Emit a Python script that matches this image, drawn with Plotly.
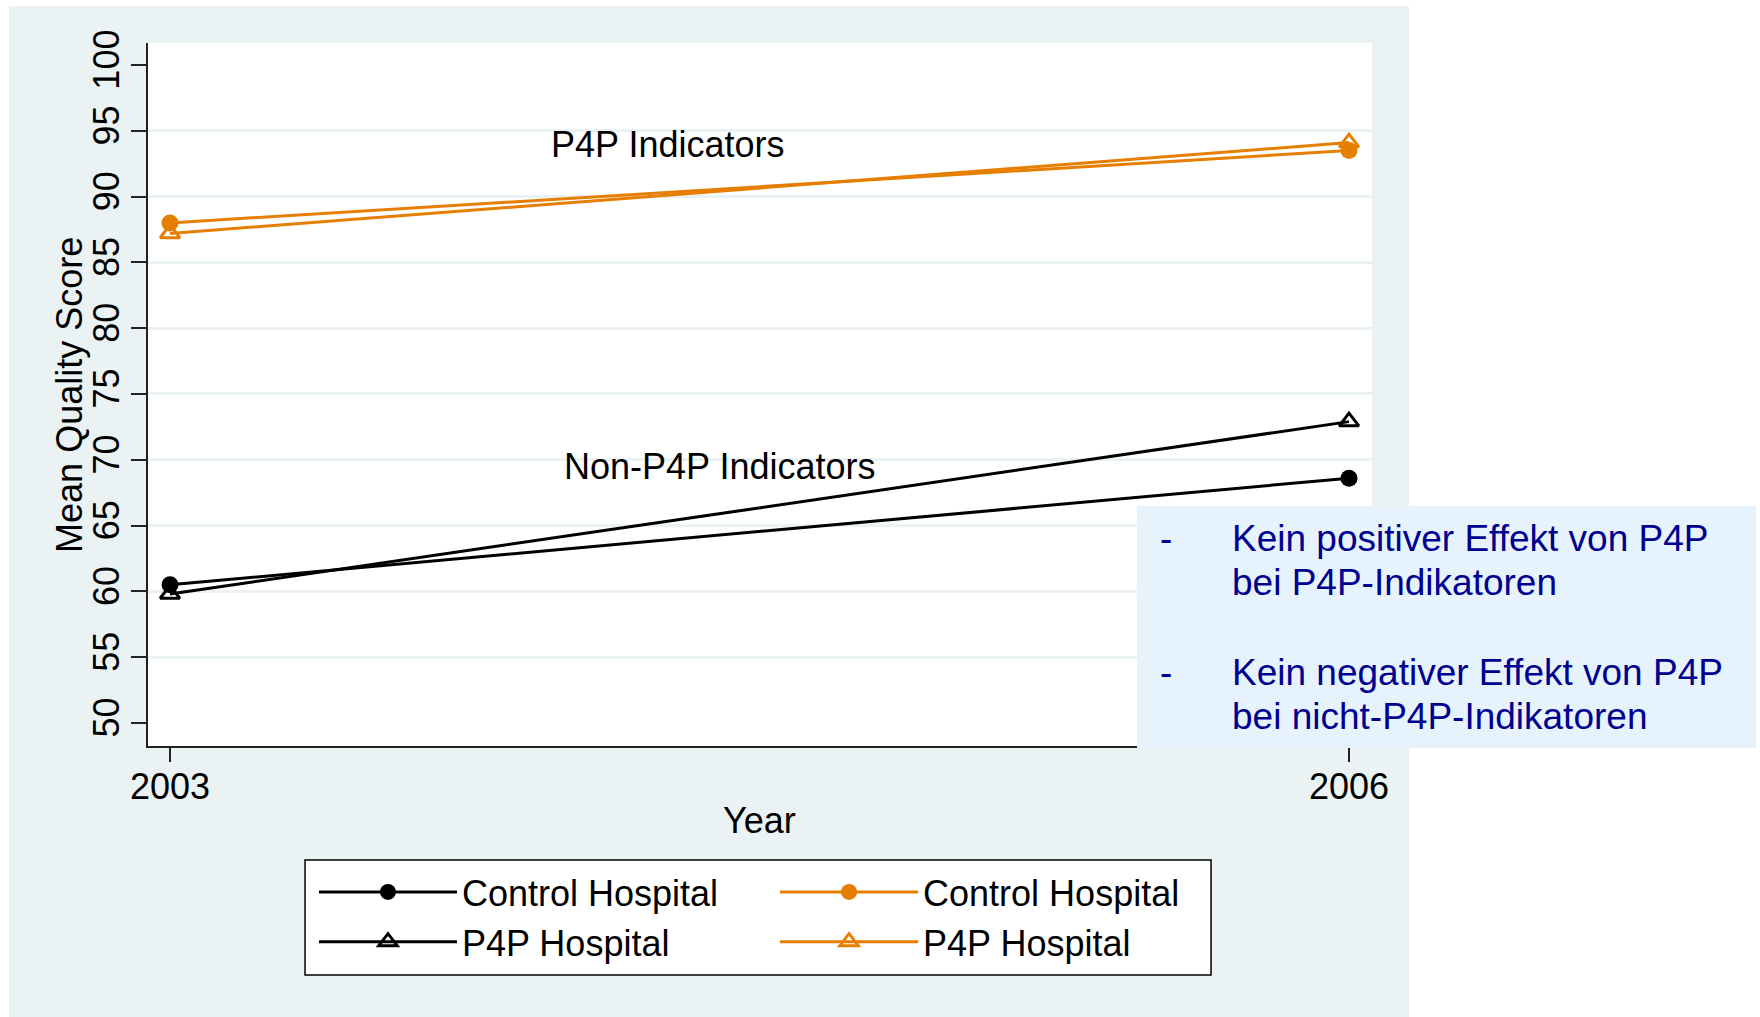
import plotly.graph_objects as go

# ---- data ----
years = [2003, 2006]
nonp4p_control = [60.5, 68.6]
nonp4p_p4p = [59.8, 72.9]
p4p_control = [88.0, 93.5]
p4p_p4p = [87.2, 94.1]
ytick_vals = [50, 55, 60, 65, 70, 75, 80, 85, 90, 95, 100]
grid_vals = [55, 60, 65, 70, 75, 80, 85, 90, 95]
xtick_vals = [2003, 2006]

FONT = "Arial, Liberation Sans, sans-serif"
BLACK = "#000000"
ORANGE = "#E67E00"
BG = "#EAF2F3"
NAVY = "#000090"
FS = 36
FS_NOTE = 37

fig = go.Figure()
fig.add_trace(go.Scatter(x=years, y=nonp4p_control, mode="lines+markers", name="Control Hospital",
                         legend="legend",
                         line=dict(color=BLACK, width=3),
                         marker=dict(symbol="circle", size=17, color=BLACK)))
fig.add_trace(go.Scatter(x=years, y=nonp4p_p4p, mode="lines+markers", name="P4P Hospital",
                         legend="legend",
                         line=dict(color=BLACK, width=3),
                         marker=dict(symbol="triangle-up-open", size=17, color=BLACK,
                                     line=dict(width=3, color=BLACK))))
fig.add_trace(go.Scatter(x=years, y=p4p_control, mode="lines+markers", name="Control Hospital",
                         legend="legend2",
                         line=dict(color=ORANGE, width=3),
                         marker=dict(symbol="circle", size=17, color=ORANGE)))
fig.add_trace(go.Scatter(x=years, y=p4p_p4p, mode="lines+markers", name="P4P Hospital",
                         legend="legend2",
                         line=dict(color=ORANGE, width=3),
                         marker=dict(symbol="triangle-up-open", size=17, color=ORANGE,
                                     line=dict(width=3, color=ORANGE))))

shapes = [
    # outer graph region background
    dict(type="rect", xref="paper", yref="paper", x0=-0.1136, x1=1.0302, y0=-0.40, y1=1.0526,
         fillcolor=BG, line=dict(width=0), layer="below"),
    # plot region
    dict(type="rect", xref="paper", yref="paper", x0=0, x1=1, y0=0, y1=1,
         fillcolor="white", line=dict(width=0), layer="below"),
    # note box
    dict(type="rect", xref="paper", yref="paper", x0=0.808, x1=1.3137, y0=-0.0028, y1=0.3414,
         fillcolor="#E6F3FC", line=dict(width=0), layer="above"),
    # legend frame (holds both legend columns)
    dict(type="rect", xref="paper", yref="paper", x0=0.1283, x1=0.8685, y0=-0.3257, y1=-0.1622,
         fillcolor="white", line=dict(width=1.5, color=BLACK), layer="above"),
]

annotations = [
    dict(text="P4P Indicators", x=2003.965, y=93.99, xref="x", yref="y", xanchor="left", yanchor="middle",
         showarrow=False, font=dict(size=FS, color=BLACK, family=FONT)),
    dict(text="Non-P4P Indicators", x=2003.998, y=69.47, xref="x", yref="y", xanchor="left", yanchor="middle",
         showarrow=False, font=dict(size=FS, color=BLACK, family=FONT)),
    dict(text="Mean Quality Score", x=-0.0642, y=0.5, xref="paper", yref="paper", textangle=-90,
         xanchor="center", yanchor="middle", showarrow=False, font=dict(size=FS, color=BLACK, family=FONT)),
    dict(text="Year", x=0.4992, y=-0.1053, xref="paper", yref="paper",
         xanchor="center", yanchor="middle", showarrow=False, font=dict(size=FS, color=BLACK, family=FONT)),
]
note_lines = [("Kein positiver Effekt von P4P", 0.2945, True), ("bei P4P-Indikatoren", 0.2330, False),
              ("Kein negativer Effekt von P4P", 0.1046, True), ("bei nicht-P4P-Indikatoren", 0.0413, False)]
for txt, yy, dash in note_lines:
    annotations.append(dict(text=txt, x=0.8840, y=yy, xref="paper", yref="paper", xanchor="left",
                            yanchor="middle", showarrow=False, font=dict(size=FS_NOTE, color=NAVY, family=FONT)))
    if dash:
        annotations.append(dict(text="-", x=0.8250, y=yy, xref="paper", yref="paper", xanchor="left",
                                yanchor="middle", showarrow=False, font=dict(size=FS_NOTE, color=NAVY, family=FONT)))

legend_common = dict(orientation="v", yanchor="top", xanchor="left",
                     bgcolor="rgba(0,0,0,0)", borderwidth=0,
                     font=dict(size=FS, family=FONT, color=BLACK),
                     itemwidth=138, traceorder="normal")

fig.update_layout(
    width=1760, height=1017,
    margin=dict(l=148, r=388, t=43, b=271, autoexpand=False),
    paper_bgcolor="white", plot_bgcolor="rgba(0,0,0,0)",
    font=dict(family=FONT, size=FS, color=BLACK),
    shapes=shapes, annotations=annotations,
    showlegend=True,
    legend=dict(x=0.1356, y=-0.165, **legend_common),
    legend2=dict(x=0.5123, y=-0.165, **legend_common),
)
fig.update_xaxes(range=[2002.944, 2006.0585], tickvals=xtick_vals, ticktext=[str(v) for v in xtick_vals],
                 showgrid=False, zeroline=False, showline=True, linecolor="#222", linewidth=2,
                 ticks="outside", ticklen=14, tickwidth=2, tickcolor="#222",
                 ticklabelstandoff=-6,
                 tickfont=dict(size=FS, family=FONT, color=BLACK))
fig.update_yaxes(range=[48.25, 101.67], tickvals=ytick_vals, showgrid=False, zeroline=False,
                 showline=True, linecolor="#222", linewidth=2,
                 ticks="outside", ticklen=15, tickwidth=2, tickcolor="#222", tickangle=-90,
                 ticklabelstandoff=-2,
                 tickfont=dict(size=FS, family=FONT, color=BLACK),
                 minor=dict(tickvals=grid_vals, showgrid=True, gridcolor=BG, gridwidth=3, ticks=""))

fig.write_html("out.html", config={"displayModeBar": False},
               post_script="document.body.style.margin='0';")
